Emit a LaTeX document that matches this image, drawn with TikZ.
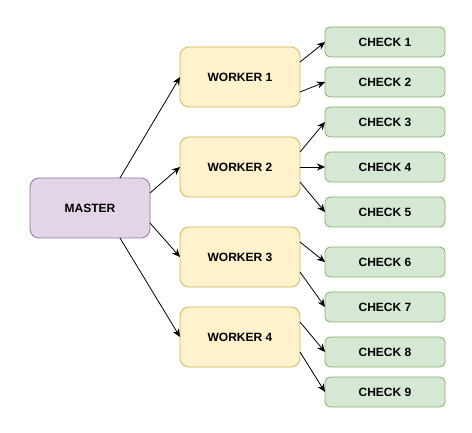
\documentclass[tikz,border=0pt]{standalone}
\usepackage{fontspec}
\setmainfont{Liberation Sans}
\usetikzlibrary{arrows.meta}
\definecolor{mfill}{HTML}{E1D5E7}
\definecolor{mline}{HTML}{9673A6}
\definecolor{wfill}{HTML}{FFF2CC}
\definecolor{wline}{HTML}{D6B656}
\definecolor{cfill}{HTML}{D5E8D4}
\definecolor{cline}{HTML}{82B366}
\begin{document}
\begin{tikzpicture}[x=1pt,y=-1pt,
  box/.style={rounded corners=9pt, line width=0.8pt, minimum width=120pt, minimum height=60pt,
    inner sep=0pt, outer sep=0pt, font=\fontsize{12}{14}\selectfont\bfseries},
  masterbox/.style={box, draw=mline, fill=mfill},
  workerbox/.style={box, draw=wline, fill=wfill},
  checkbox/.style={box, draw=cline, fill=cfill, minimum height=30pt, rounded corners=5pt},
  arr/.style={line width=0.8pt, -{Stealth[length=8pt,width=7pt,inset=2.5pt]}}]
\useasboundingbox[fill=white] (0,0) rectangle (472,433);
\node[masterbox] (m) at (90,208) {MASTER};
\node[workerbox] (w1) at (240,77) {WORKER 1};
\node[workerbox] (w2) at (240,167) {WORKER 2};
\node[workerbox] (w3) at (240,257) {WORKER 3};
\node[workerbox] (w4) at (240,337) {WORKER 4};
\node[checkbox] (c1) at (385,42) {CHECK 1};
\node[checkbox] (c2) at (385,82) {CHECK 2};
\node[checkbox] (c3) at (385,122) {CHECK 3};
\node[checkbox] (c4) at (385,167) {CHECK 4};
\node[checkbox] (c5) at (385,212) {CHECK 5};
\node[checkbox] (c6) at (385,262) {CHECK 6};
\node[checkbox] (c7) at (385,307) {CHECK 7};
\node[checkbox] (c8) at (385,352) {CHECK 8};
\node[checkbox] (c9) at (385,392) {CHECK 9};
\draw[arr] ([xshift=30pt]m.north) -- (w1.west);
\draw[arr] ([yshift=15pt]m.east) -- (w2.west);
\draw[arr] ([yshift=-15pt]m.east) -- (w3.west);
\draw[arr] ([xshift=30pt]m.south) -- (w4.west);
\draw[arr] ([yshift=15pt]w1.east) -- (c1.west);
\draw[arr] ([yshift=-15pt]w1.east) -- (c2.west);
\draw[arr] ([yshift=15pt]w2.east) -- (c3.west);
\draw[arr] (w2.east) -- (c4.west);
\draw[arr] ([yshift=-15pt]w2.east) -- (c5.west);
\draw[arr] ([yshift=15pt]w3.east) -- (c6.west);
\draw[arr] ([yshift=-15pt]w3.east) -- (c7.west);
\draw[arr] ([yshift=15pt]w4.east) -- (c8.west);
\draw[arr] ([yshift=-15pt]w4.east) -- (c9.west);
\end{tikzpicture}
\end{document}
